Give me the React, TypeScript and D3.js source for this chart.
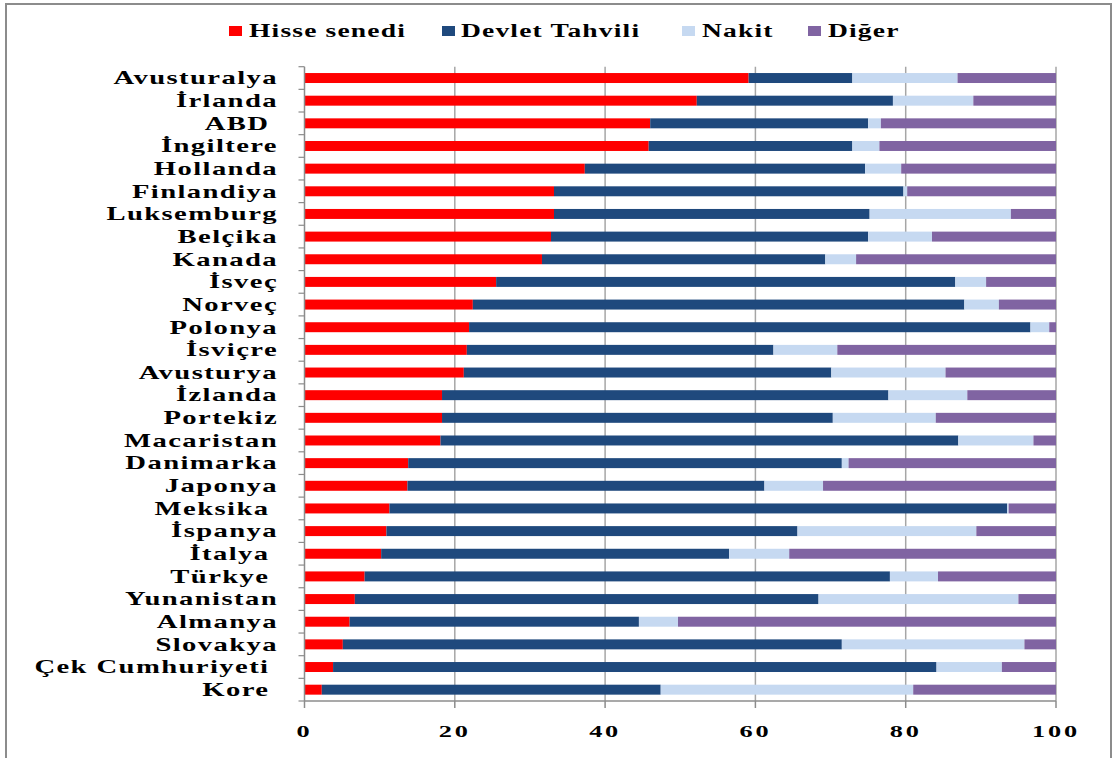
import React from "react";
import * as d3 from "d3";

// Portföy dağılımı (%), ülkelere göre
const countries = [
  "Avusturalya", "İrlanda", "ABD ", "İngiltere", "Hollanda", "Finlandiya", "Luksemburg",
  "Belçika", "Kanada", "İsveç", "Norveç", "Polonya", "İsviçre", "Avusturya", "İzlanda",
  "Portekiz", "Macaristan", "Danimarka", "Japonya", "Meksika ", "İspanya", "İtalya ",
  "Türkye ", "Yunanistan", "Almanya", "Slovakya", "Çek Cumhuriyeti ", "Kore ",
];

const hisseSenedi = [59.1, 52.2, 46.0, 45.8, 37.3, 33.2, 33.2, 32.8, 31.6, 25.5, 22.4, 21.9, 21.6, 21.2, 18.3, 18.3, 18.1, 13.8, 13.7, 11.3, 10.9, 10.2, 8.0, 6.7, 6.0, 5.1, 3.8, 2.3];
const devletTahvili = [13.8, 26.1, 29.0, 27.1, 37.3, 46.5, 42.0, 42.2, 37.7, 61.1, 65.4, 74.7, 40.8, 48.9, 59.4, 52.0, 68.9, 57.7, 47.5, 82.2, 54.7, 46.3, 69.9, 61.7, 38.5, 66.4, 80.3, 45.1];
const nakit = [14.0, 10.7, 1.7, 3.6, 4.8, 0.5, 18.8, 8.5, 4.1, 4.1, 4.6, 2.5, 8.5, 15.2, 10.5, 13.7, 10.0, 0.9, 7.8, 0.2, 23.8, 8.0, 6.4, 26.6, 5.2, 24.3, 8.7, 33.6];
const diger = [13.1, 11.0, 23.3, 23.5, 20.6, 19.8, 6.0, 16.5, 26.6, 9.3, 7.6, 0.9, 29.1, 14.7, 11.8, 16.0, 3.0, 27.6, 31.0, 6.3, 10.6, 35.5, 15.7, 5.0, 50.3, 4.2, 7.2, 19.0];

const seriesNames = ["Hisse senedi", "Devlet Tahvili", "Nakit", "Diğer"];
const seriesColors = ["#FF0000", "#1F497D", "#C6D9F1", "#8064A2"];
const xTicks = [0, 20, 40, 60, 80, 100];

const W = 1115;
const H = 758;
const plot = { left: 304.5, right: 1056, top: 66.7, bottom: 701 };
const FONT = "'Liberation Serif', 'Times New Roman', serif";

export default function App() {
  const rows = countries.map((c, i) => ({
    country: c,
    s0: hisseSenedi[i],
    s1: devletTahvili[i],
    s2: nakit[i],
    s3: diger[i],
  }));
  const keys = ["s0", "s1", "s2", "s3"];
  const stacked = d3.stack<any>().keys(keys)(rows);

  const x = d3.scaleLinear().domain([0, 100]).range([plot.left, plot.right]);
  const y = d3
    .scaleBand<string>()
    .domain(countries)
    .range([plot.top, plot.bottom])
    .paddingInner(0.56)
    .paddingOuter(0.28);
  const step = (plot.bottom - plot.top) / countries.length;

  const legendItems = [
    { sq: 229, tx: 249 },
    { sq: 442, tx: 461 },
    { sq: 682, tx: 702 },
    { sq: 808, tx: 828 },
  ];

  return (
    <svg
      width={W}
      height={H}
      style={{ position: "absolute", left: 0, top: 0, background: "#fff" }}
    >
      <rect x={6} y={4} width={1105} height={760} fill="#fff" stroke="#8C8C8C" strokeWidth={2} />

      {/* legend */}
      {seriesNames.map((name, i) => (
        <g key={name}>
          <rect x={legendItems[i].sq} y={26} width={13} height={10} fill={seriesColors[i]} />
          <text
            transform={`translate(${legendItems[i].tx},37) scale(1.45,1)`}
            fontFamily={FONT}
            fontWeight="bold"
            fontSize={19}
            letterSpacing={0.8}
            fill="#000"
          >
            {name}
          </text>
        </g>
      ))}

      {/* vertical gridlines */}
      {xTicks.slice(1).map((t) => (
        <line key={t} x1={x(t)} x2={x(t)} y1={plot.top} y2={plot.bottom} stroke="#A6A6A6" strokeWidth={1.5} />
      ))}

      {/* bars */}
      {stacked.map((layer, si) => (
        <g key={si} fill={seriesColors[si]}>
          {layer.map((d: any) => (
            <rect
              key={d.data.country}
              x={x(d[0])}
              y={y(d.data.country)!}
              width={Math.max(0, x(d[1]) - x(d[0]))}
              height={y.bandwidth()}
            />
          ))}
        </g>
      ))}

      {/* y axis */}
      <line x1={plot.left} x2={plot.left} y1={plot.top} y2={plot.bottom} stroke="#8C8C8C" strokeWidth={1.5} />
      {d3.range(countries.length + 1).map((k) => (
        <line
          key={k}
          x1={plot.left - 6}
          x2={plot.left}
          y1={plot.top + k * step}
          y2={plot.top + k * step}
          stroke="#8C8C8C"
          strokeWidth={1.2}
        />
      ))}
      {countries.map((c) => (
        <text
          key={c}
          transform={`translate(278,${y(c)! + y.bandwidth() / 2}) scale(1.55,1)`}
          dy="0.34em"
          textAnchor="end"
          fontFamily={FONT}
          fontWeight="bold"
          fontSize={18.5}
          letterSpacing={0.9}
          fill="#000"
          style={{ whiteSpace: "pre" }}
        >
          {c}
        </text>
      ))}

      {/* x axis */}
      <line x1={plot.left} x2={plot.right} y1={plot.bottom} y2={plot.bottom} stroke="#8C8C8C" strokeWidth={1.5} />
      {xTicks.map((t) => (
        <g key={t}>
          <line x1={x(t)} x2={x(t)} y1={plot.bottom} y2={plot.bottom + 7} stroke="#8C8C8C" strokeWidth={1.5} />
          <text
            transform={`translate(${x(t)},737) scale(1.55,1)`}
            textAnchor="middle"
            fontFamily={FONT}
            fontWeight="bold"
            fontSize={17}
            letterSpacing={1.8}
            fill="#000"
          >
            {t}
          </text>
        </g>
      ))}
    </svg>
  );
}
